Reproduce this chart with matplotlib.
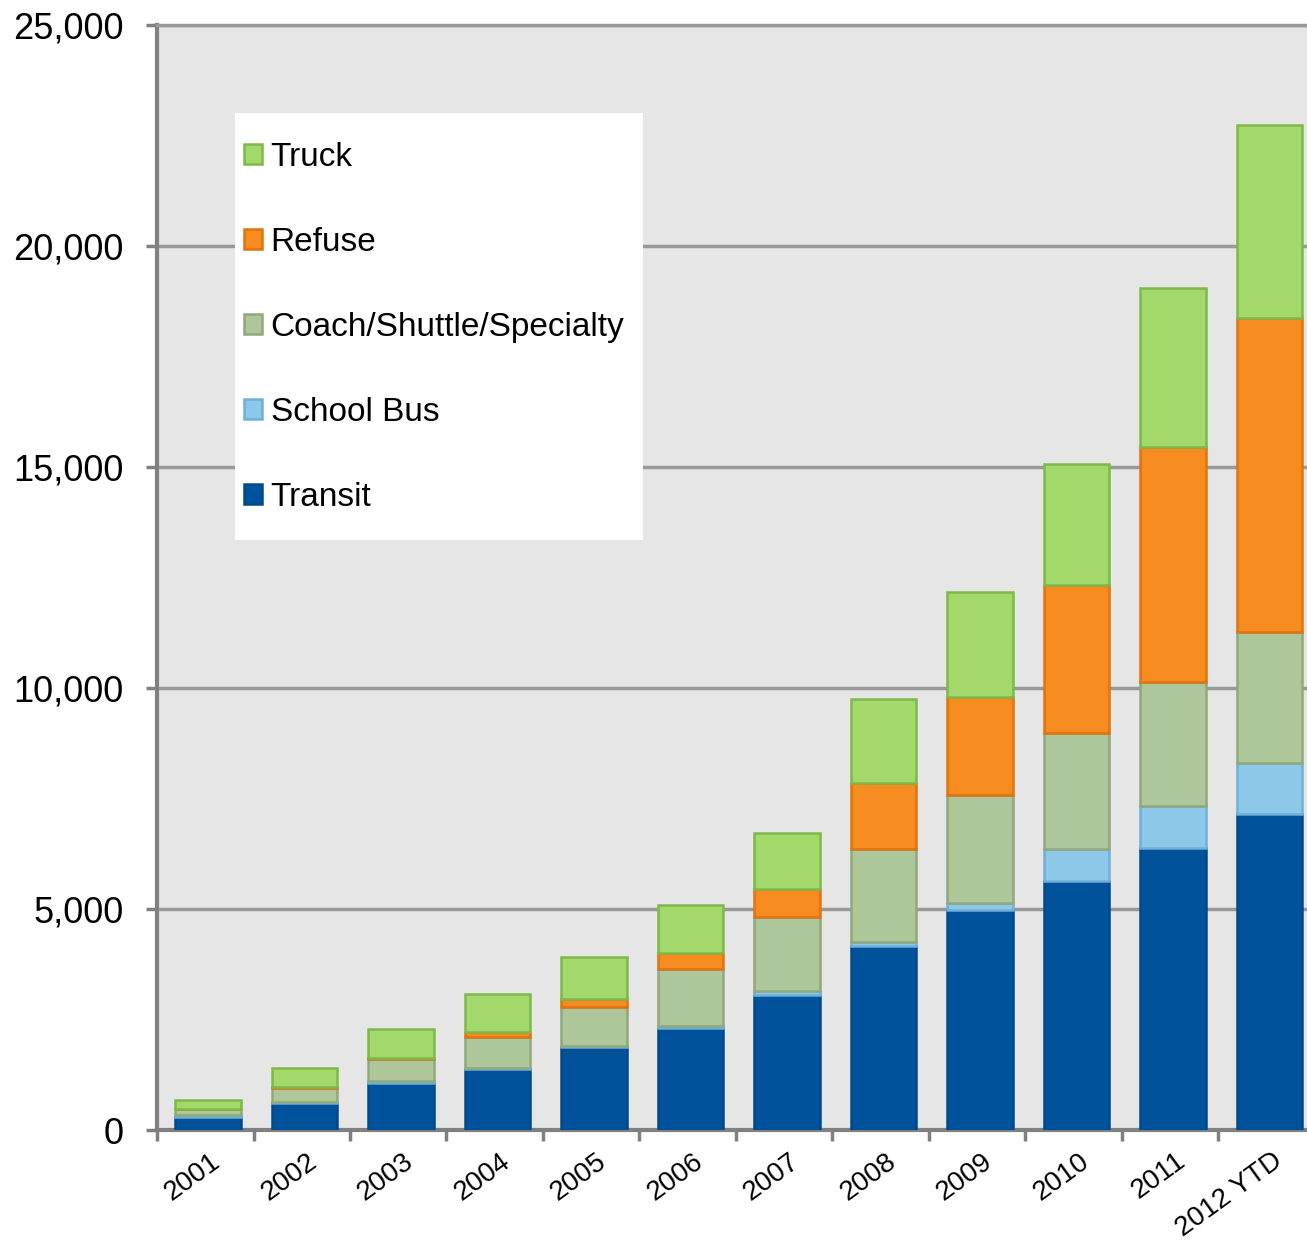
import numpy as np
import matplotlib.pyplot as plt
from matplotlib.patches import Rectangle

plt.rcParams['font.family'] = ['Liberation Sans', 'DejaVu Sans']

years = ['2001', '2002', '2003', '2004', '2005', '2006',
         '2007', '2008', '2009', '2010', '2011', '2012 YTD']

# vehicles by segment, stacked bottom to top
transit = [300, 610, 1070, 1370, 1870, 2310, 3050, 4160, 4970, 5630, 6370, 7160]
school_bus = [30, 20, 30, 40, 40, 40, 90, 90, 170, 730, 970, 1150]
coach = [150, 330, 500, 690, 870, 1290, 1680, 2110, 2440, 2620, 2790, 2960]
refuse = [0, 10, 20, 120, 180, 360, 640, 1490, 2220, 3350, 5330, 7090]
truck = [200, 430, 670, 860, 950, 1090, 1260, 1900, 2370, 2740, 3580, 4380]

series = [
    ('Transit', transit, '#00529b', '#004a8c'),
    ('School Bus', school_bus, '#8dc8e8', '#6fb0d8'),
    ('Coach/Shuttle/Specialty', coach, '#adc79b', '#8fa97d'),
    ('Refuse', refuse, '#f68b1f', '#df7410'),
    ('Truck', truck, '#a3d86b', '#7fb84a'),
]

W, H = 1307, 1248
fig = plt.figure(figsize=(W / 100, H / 100), dpi=100)
ax = fig.add_axes([157 / W, 118 / H, 1158 / W, 1105 / H])
ax.set_facecolor('#e6e6e6')

x = np.arange(len(years))
bottom = np.zeros(len(years))
handles = []
for name, vals, fc, ec in series:
    vals = np.array(vals, dtype=float)
    b = ax.bar(x + 0.03, vals, 0.68, bottom=bottom, color=fc, edgecolor=ec,
               linewidth=1.8, label=name, zorder=3)
    handles.append(b)
    bottom += vals

ax.set_xlim(-0.5, len(years) - 0.5)
ax.set_ylim(0, 25000)
ax.set_yticks(np.arange(0, 25001, 5000))
ax.set_yticklabels([f'{v:,}' for v in range(0, 25001, 5000)], fontsize=26)
ax.set_xticks(x + 0.05)
ax.set_xticklabels(years, fontsize=20, rotation=36, ha='right',
                   rotation_mode='anchor')
ax.set_xticks(np.arange(-0.5, len(years), 1), minor=True)
ax.tick_params(axis='x', which='major', length=0, pad=13)
ax.tick_params(axis='x', which='minor', length=8, width=2.5, color='#808080')
ax.tick_params(axis='y', length=8, width=2.5, color='#808080', pad=16)

ax.yaxis.grid(True, color='#999999', linewidth=2.5, zorder=1)
ax.set_axisbelow(True)
ax.spines['right'].set_visible(False)
ax.spines['top'].set_color('#999999')
ax.spines['top'].set_linewidth(2.5)
for s in ['left', 'bottom']:
    ax.spines[s].set_color('#808080')
    ax.spines[s].set_linewidth(3)

# white legend panel
fig.patches.append(Rectangle((235 / W, 1 - 540 / H), 408 / W, 427 / H,
                             transform=fig.transFigure, facecolor='white',
                             edgecolor='none', zorder=2))
leg = fig.legend(handles[::-1], [s[0] for s in series][::-1],
                 loc='upper left', bbox_to_anchor=(244 / W, 1 - 142 / H),
                 frameon=False, fontsize=24, handlelength=0.55,
                 handleheight=0.55, handletextpad=0.25, labelspacing=1.62,
                 borderpad=0, borderaxespad=0)
leg.set_zorder(5)

fig.savefig('out.png', dpi=100)
